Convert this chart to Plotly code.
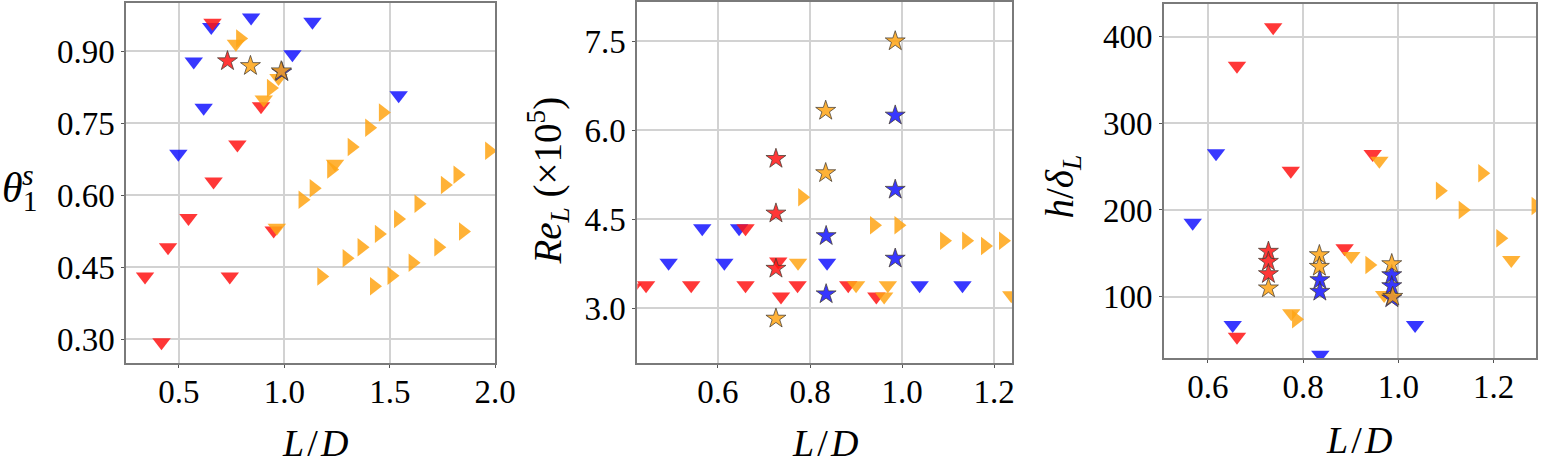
import plotly.graph_objects as go

W, H = 1561, 463

# ---------------- Panel 1: theta_1^s vs L/D ----------------
p1_red_tri_x = [0.339, 0.417, 0.448, 0.545, 0.659, 0.664, 0.741, 0.777, 0.889, 0.949]
p1_red_tri_y = [0.430, 0.293, 0.491, 0.552, 0.959, 0.628, 0.430, 0.705, 0.785, 0.526]
p1_blue_tri_x = [0.497, 0.570, 0.617, 0.653, 0.842, 1.038, 1.133, 1.542]
p1_blue_tri_y = [0.686, 0.878, 0.782, 0.950, 0.970, 0.893, 0.961, 0.808]
p1_orange_down_x = [0.770, 0.902, 0.964, 0.972, 1.240]
p1_orange_down_y = [0.915, 0.799, 0.532, 0.844, 0.665]
p1_orange_right_x = [0.790, 0.936, 1.086, 1.139, 1.175, 1.222, 1.295, 1.319, 1.366, 1.402, 1.425,
                     1.448, 1.467, 1.508, 1.539, 1.608, 1.636, 1.730, 1.761, 1.821, 1.847, 1.971]
p1_orange_right_y = [0.926, 0.823, 0.590, 0.614, 0.430, 0.653, 0.468, 0.700, 0.491, 0.740, 0.410,
                     0.519, 0.772, 0.432, 0.550, 0.459, 0.582, 0.491, 0.621, 0.642, 0.524, 0.692]
p1_red_star_x = [0.730]
p1_red_star_y = [0.879]
p1_blue_star_x = [0.988]
p1_blue_star_y = [0.856]
p1_orange_star_x = [0.839, 0.985]
p1_orange_star_y = [0.869, 0.858]

# ---------------- Panel 2: Re_L vs L/D ----------------
p2_red_tri_x = [0.415, 0.444, 0.542, 0.660, 0.660, 0.731, 0.737, 0.773, 0.883, 0.944]
p2_red_tri_y = [3.35, 3.39, 3.39, 4.35, 3.39, 3.79, 3.20, 3.39, 3.39, 3.20]
p2_blue_tri_x = [0.493, 0.566, 0.614, 0.646, 0.837, 1.038, 1.131]
p2_blue_tri_y = [3.77, 4.35, 3.77, 4.35, 3.77, 3.39, 3.39]
p2_orange_down_x = [0.774, 0.900, 0.961, 0.969, 1.237]
p2_orange_down_y = [3.77, 3.39, 3.20, 3.39, 3.22]
p2_orange_right_x = [0.783, 0.939, 0.992, 1.091, 1.139, 1.180, 1.219]
p2_orange_right_y = [4.87, 4.40, 4.40, 4.14, 4.14, 4.05, 4.14]
p2_red_star_x = [0.726, 0.726, 0.726]
p2_red_star_y = [5.52, 4.60, 3.67]
p2_blue_star_x = [0.985, 0.985, 0.985, 0.835, 0.835]
p2_blue_star_y = [6.25, 5.00, 3.84, 4.22, 3.24]
p2_orange_star_x = [0.985, 0.834, 0.834, 0.726]
p2_orange_star_y = [7.50, 6.33, 5.28, 2.83]

# ---------------- Panel 3: h/delta_L vs L/D ----------------
p3_red_tri_x = [0.737, 0.661, 0.774, 0.946, 0.887, 0.661]
p3_red_tri_y = [410.8, 366.5, 245.4, 264.6, 155.8, 53.8]
p3_blue_tri_x = [0.617, 0.568, 0.652, 1.035, 0.836]
p3_blue_tri_y = [265.4, 185.4, 67.3, 67.3, 33.0]
p3_orange_down_x = [0.960, 0.901, 0.970, 0.775, 1.237]
p3_orange_down_y = [256.9, 147.0, 102.0, 80.8, 142.3]
p3_orange_right_x = [0.939, 0.785, 1.087, 1.135, 1.176, 1.214, 1.288]
p3_orange_right_y = [136.6, 73.9, 222.3, 200.0, 242.4, 167.4, 204.6]
p3_red_star_x = [0.727, 0.727, 0.727]
p3_red_star_y = [152.0, 140.4, 126.2]
p3_blue_star_x = [0.835, 0.835, 0.986, 0.986, 0.986]
p3_blue_star_y = [119.3, 105.8, 125.0, 112.3, 98.2]
p3_orange_star_x = [0.727, 0.834, 0.834, 0.986, 0.988]
p3_orange_star_y = [109.7, 148.1, 134.6, 137.7, 100.0]

# axis ticks
p1_xticks = [0.5, 1.0, 1.5, 2.0]
p1_yticks = [0.30, 0.45, 0.60, 0.75, 0.90]
p2_xticks = [0.6, 0.8, 1.0, 1.2]
p2_yticks = [3.0, 4.5, 6.0, 7.5]
p3_xticks = [0.6, 0.8, 1.0, 1.2]
p3_yticks = [100, 200, 300, 400]

RED = "rgba(255,20,20,0.85)"
BLUE = "rgba(20,20,255,0.85)"
ORANGE = "rgba(255,165,20,0.85)"
STAR_EDGE = "rgba(70,60,50,0.75)"
FONT = "Liberation Serif, Times New Roman, DejaVu Serif, serif"

fig = go.Figure()


def add(x, y, color, symbol, ax, star=False):
    fig.add_trace(go.Scatter(
        x=x, y=y, mode="markers", xaxis="x" + ax, yaxis="y" + ax,
        showlegend=False, hoverinfo="skip",
        marker=dict(symbol=symbol, color=color, size=15 if star else 16,
                    line=dict(color=STAR_EDGE if star else "rgba(0,0,0,0)",
                              width=1 if star else 0)),
    ))


panels = [
    ("", p1_blue_tri_x, p1_blue_tri_y, p1_red_tri_x, p1_red_tri_y, p1_orange_down_x, p1_orange_down_y,
     p1_orange_right_x, p1_orange_right_y, p1_blue_star_x, p1_blue_star_y, p1_red_star_x, p1_red_star_y,
     p1_orange_star_x, p1_orange_star_y),
    ("2", p2_blue_tri_x, p2_blue_tri_y, p2_red_tri_x, p2_red_tri_y, p2_orange_down_x, p2_orange_down_y,
     p2_orange_right_x, p2_orange_right_y, p2_blue_star_x, p2_blue_star_y, p2_red_star_x, p2_red_star_y,
     p2_orange_star_x, p2_orange_star_y),
    ("3", p3_blue_tri_x, p3_blue_tri_y, p3_red_tri_x, p3_red_tri_y, p3_orange_down_x, p3_orange_down_y,
     p3_orange_right_x, p3_orange_right_y, p3_blue_star_x, p3_blue_star_y, p3_red_star_x, p3_red_star_y,
     p3_orange_star_x, p3_orange_star_y),
]
for (ax, bx, by, rx, ry, odx, ody, orx, ory, bsx, bsy, rsx, rsy, osx, osy) in panels:
    add(bx, by, BLUE, "triangle-down", ax)
    add(rx, ry, RED, "triangle-down", ax)
    add(odx, ody, ORANGE, "triangle-down", ax)
    add(orx, ory, ORANGE, "triangle-right", ax)
    add(bsx, bsy, BLUE, "star", ax, star=True)
    add(rsx, rsy, RED, "star", ax, star=True)
    add(osx, osy, ORANGE, "star", ax, star=True)


def px_x(a, b):
    return [a / W, b / W]


def px_y(top, bottom):
    return [(H - bottom) / H, (H - top) / H]


common = dict(showline=True, linecolor="#7a7a7a", linewidth=2, mirror=True,
              showgrid=True, gridcolor="#d2d2d2", gridwidth=1.5, zeroline=False,
              ticks="outside", ticklen=3, tickwidth=1, tickcolor="#555",
              tickfont=dict(family=FONT, size=33, color="black"))

layout = dict(
    width=W, height=H, margin=dict(l=0, r=0, t=0, b=0),
    paper_bgcolor="white", plot_bgcolor="white",
    font=dict(family=FONT, color="black"),
    xaxis=dict(domain=px_x(128, 502), range=[0.25, 2.0], tickvals=p1_xticks, tickformat=".1f",
               anchor="y", ticklabelstandoff=-5, **common),
    yaxis=dict(domain=px_y(3, 363), range=[0.25, 1.0], tickvals=p1_yticks, tickformat=".2f",
               anchor="x", ticklabelstandoff=0, **common),
    xaxis2=dict(domain=px_x(646, 1026), range=[0.425, 1.239], tickvals=p2_xticks, tickformat=".1f",
                anchor="y2", ticklabelstandoff=-5, **common),
    yaxis2=dict(domain=px_y(2, 363), range=[2.08, 8.16], tickvals=p2_yticks, tickformat=".1f",
                anchor="x2", ticklabelstandoff=0, **common),
    xaxis3=dict(domain=px_x(1180, 1557), range=[0.508, 1.289], tickvals=p3_xticks, tickformat=".1f",
                anchor="y3", ticklabelstandoff=-5, **common),
    yaxis3=dict(domain=px_y(4, 358), range=[29.2, 437.7], tickvals=p3_yticks, tickformat="d",
                anchor="x3", ticklabelstandoff=0, **common),
)
fig.update_layout(**layout)


def ann(text, x, y, size, angle=0, xanchor="center"):
    fig.add_annotation(text=text, x=x / W, y=1 - y / H, xref="paper", yref="paper",
                       showarrow=False, textangle=angle, xanchor=xanchor, yanchor="middle",
                       font=dict(family=FONT, size=size, color="black"))


LD = "<i>L</i>\u200a/\u200a<i>D</i>"
ann(LD, 320, 443, 38)
ann(LD, 837, 443, 38)
ann(LD, 1378, 440, 38)
ann("<i>θ</i><sub>1</sub>", 0, 191, 42, xanchor="left")
ann("<i>s</i>", 28, 174, 30)
ann("<i>Re</i><sub><i>L</i></sub> (×10<sup>5</sup>)", 556, 181, 39, angle=-90)
ann("<i>h</i>/<i>δ</i><sub><i>L</i></sub>", 1076, 187, 39, angle=-90)

fig.write_html("out.html")
